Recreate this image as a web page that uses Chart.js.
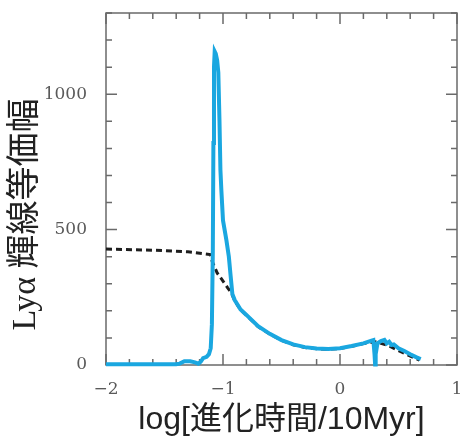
<!DOCTYPE html>
<html>
<head>
<meta charset="utf-8">
<script src="https://cdn.jsdelivr.net/npm/chart.js@4.4.1/dist/chart.umd.min.js"></script>
<style>
  html, body { margin: 0; padding: 0; background: #fff; }
  #wrap { width: 461px; height: 439px; }
</style>
</head>
<body>
<div id="wrap"><canvas id="lya"></canvas></div>
<script>
// Lyα equivalent width vs log(age / 10 Myr)
const modelX = [-2.00, -1.60, -1.40, -1.37, -1.33, -1.28, -1.24, -1.21, -1.19, -1.17, -1.14, -1.12, -1.105,
    -1.095, -1.087, -1.082, -1.077, -1.071, -1.062, -1.050, -1.040, -1.030, -1.022, -1.014, -1.000,
    -0.971, -0.950, -0.935, -0.920, -0.900, -0.850, -0.800, -0.700, -0.600, -0.500, -0.400, -0.300, -0.200,
    -0.100, 0.000, 0.100, 0.200, 0.270, 0.285, 0.295, 0.300, 0.305, 0.320, 0.350, 0.380, 0.400,
    0.420, 0.440, 0.460, 0.500, 0.550, 0.600, 0.650, 0.690];
const modelY = [3, 3, 3, 5, 14, 14, 10, 5, 12, 25, 30, 40, 62,
    150, 420, 820, 1100, 1158, 1150, 1125, 1080, 900, 720, 645, 534,
    461, 400, 330, 262, 240, 205, 185, 143, 115, 92, 76, 66, 61,
    59, 62, 70, 80, 90, 92, 40, 2, 40, 80, 88, 93, 80,
    86, 74, 76, 62, 52, 40, 29, 22];

const constX = [-2.00, -1.60, -1.30, -1.11, -1.09, -1.05, -1.00, -0.96, -0.93, -0.90, -0.85, -0.80,
    -0.70, -0.60, -0.50, -0.40, -0.30, -0.20, -0.10, 0.00, 0.10, 0.20, 0.30, 0.40, 0.42, 0.55, 0.68];
const constY = [428, 424, 418, 408, 380, 340, 310, 285, 268, 238, 204, 184,
    142, 114, 91, 75, 65, 60, 58, 61, 69, 79, 86, 74, 70, 43, 18];

const xTickLabels = [-2, -1, 0, 1];
const yTickLabels = [0, 500, 1000];

const toPoints = (xs, ys) => xs.map((v, i) => ({ x: v, y: ys[i] }));

// frame + inward tick marks on all four sides
const innerTicks = {
    id: 'innerTicks',
    beforeDatasetsDraw(chart) {
        const { ctx, chartArea: a, scales: { x, y } } = chart;
        ctx.save();
        ctx.strokeStyle = '#6a6a6a';
        ctx.lineWidth = 1.5;
        ctx.strokeRect(a.left, a.top, a.right - a.left, a.bottom - a.top);
        ctx.beginPath();
        for (let i = 0; i <= 15; i++) {
            const v = -2 + i * 0.2;
            const px = x.getPixelForValue(v);
            const len = Math.abs(v - Math.round(v)) < 1e-6 ? 11 : 6;
            ctx.moveTo(px, a.bottom); ctx.lineTo(px, a.bottom - len);
            ctx.moveTo(px, a.top); ctx.lineTo(px, a.top + len);
        }
        for (let v = 0; v <= 1300; v += 100) {
            const py = y.getPixelForValue(v);
            const len = v % 500 === 0 ? 11 : 6;
            ctx.moveTo(a.left, py); ctx.lineTo(a.left + len, py);
            ctx.moveTo(a.right, py); ctx.lineTo(a.right - len, py);
        }
        ctx.stroke();
        ctx.restore();
    }
};

const lyaChart = new Chart(document.querySelector('#lya'), {
    type: 'line',
    data: {
        datasets: [
            {
                label: 'model',
                data: toPoints(modelX, modelY),
                borderColor: '#1aa7e0',
                borderWidth: 4,
                pointRadius: 0,
                tension: 0,
                clip: false,
                order: 1,
            },
            {
                label: 'constant',
                data: toPoints(constX, constY),
                borderColor: '#1e1e1e',
                borderWidth: 3,
                borderDash: [6, 4],
                pointRadius: 0,
                tension: 0,
                clip: false,
                order: 2,
            },
        ],
    },
    options: {
        responsive: true,
        maintainAspectRatio: false,
        animation: false,
        layout: { padding: { top: 13, right: 4, left: 0, bottom: 0 } },
        plugins: { legend: { display: false }, tooltip: { enabled: false } },
        scales: {
            x: {
                type: 'linear',
                min: -2,
                max: 1,
                grid: { display: false },
                border: { display: false },
                afterBuildTicks: (s) => { s.ticks = xTickLabels.map(v => ({ value: v })); },
                afterFit: (s) => { s.height = 74; s.paddingLeft = 0; s.paddingRight = 0; },
                ticks: {
                    maxRotation: 0,
                    padding: 6,
                    color: '#5a5a5a',
                    font: { family: '"DejaVu Serif"', size: 17 },
                    callback: (v) => (v < 0 ? '\u2212' + Math.abs(v) : String(v)),
                },
                title: {
                    display: true,
                    text: 'log[進化時間/10Myr]',
                    color: '#222',
                    font: { family: '"Liberation Sans", "Noto Sans CJK JP"', size: 32, lineHeight: 1.2 },
                    padding: { top: 0, bottom: 0 },
                },
            },
            y: {
                min: 0,
                max: 1300,
                grid: { display: false },
                border: { display: false },
                afterBuildTicks: (s) => { s.ticks = yTickLabels.map(v => ({ value: v })); },
                afterFit: (s) => { s.width = 106; s.paddingTop = 0; s.paddingBottom = 0; },
                ticks: {
                    padding: 11,
                    color: '#5a5a5a',
                    font: { family: '"DejaVu Serif"', size: 17 },
                    callback: (v) => String(v),
                },
                title: {
                    display: true,
                    text: 'Lyα 輝線等価幅\u2003\u2002',
                    color: '#222',
                    font: { family: '"Liberation Serif", "Noto Sans CJK JP"', size: 34, lineHeight: 1.2 },
                    padding: { top: 6, bottom: 0 },
                },
            },
        },
    },
    plugins: [innerTicks],
});
</script>
</body>
</html>
